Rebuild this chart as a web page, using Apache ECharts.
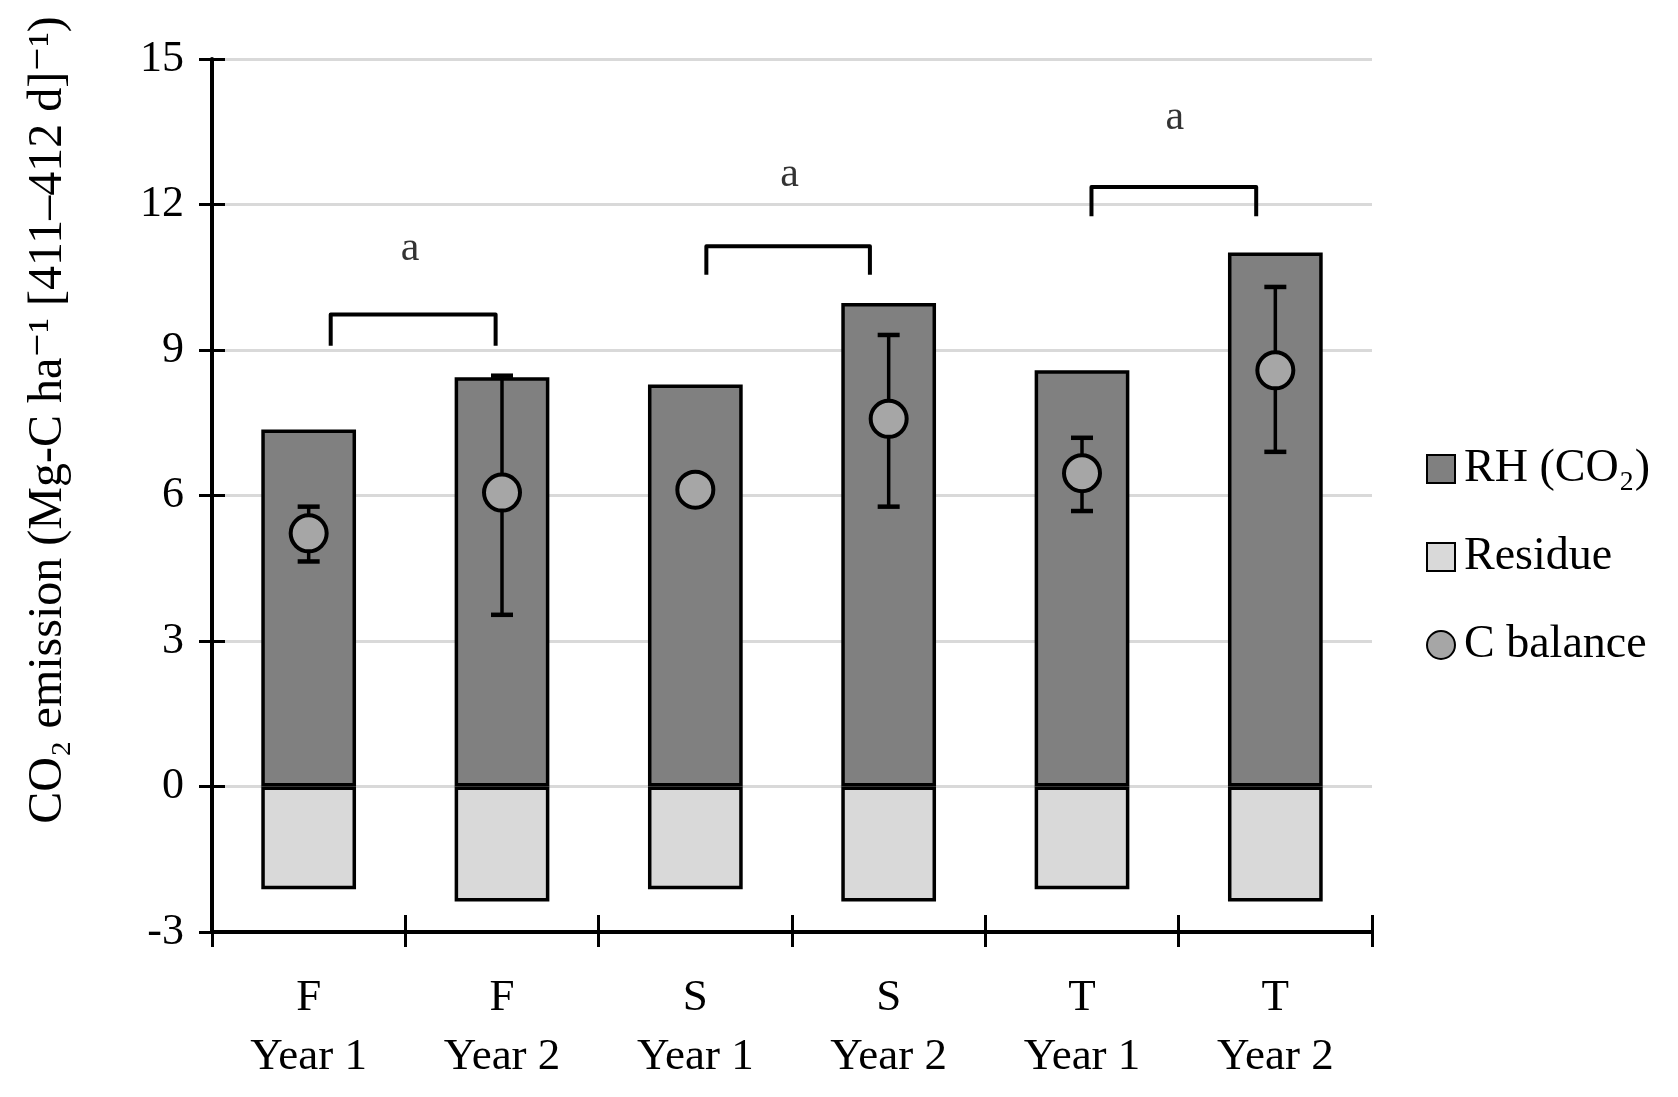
<!DOCTYPE html>
<html>
<head>
<meta charset="utf-8">
<script src="https://cdn.jsdelivr.net/npm/echarts@6/dist/echarts.min.js"></script>
<style>
html,body{margin:0;padding:0;background:#fff;}
#main{width:1678px;height:1097px;}
</style>
</head>
<body>
<div id="main"></div>
<script>
// ---- data ----
var categories = ['F\nYear 1','F\nYear 2','S\nYear 1','S\nYear 2','T\nYear 1','T\nYear 2'];
var rhValues = [7.36, 8.44, 8.29, 9.97, 8.58, 11.01];
var residueValues = [-2.12, -2.37, -2.12, -2.37, -2.12, -2.37];
var cBalance = [5.22, 6.06, 6.12, 7.58, 6.46, 8.58];
var errLow = [4.64, 3.54, null, 5.77, 5.68, 6.90];
var errHigh = [5.77, 8.47, null, 9.31, 7.19, 10.30];
var yTicks = {min: -3, max: 15, interval: 3};
// significance brackets (x in category index units)
var bracketLeft = [0.114, 2.057, 4.049];
var bracketRight = [0.967, 2.903, 4.901];
var bracketTop = [9.73, 11.14, 12.36];
var bracketFoot = [9.09, 10.55, 11.76];
var letterX = [0.524, 2.488, 4.48];
var letterY = [11.09, 12.61, 13.78];
var letters = ['a', 'a', 'a'];

var FONT = '"Liberation Serif", "DejaVu Serif", serif';

var errData = [];
for (var i = 0; i < categories.length; i++) {
  if (errLow[i] != null) errData.push([i, errLow[i], errHigh[i]]);
}
var bracketData = bracketLeft.map(function(l, i){ return [l, bracketRight[i], bracketTop[i], bracketFoot[i]]; });
var letterData = letterX.map(function(x, i){ return [x, letterY[i], letters[i]]; });

var chart = echarts.init(document.getElementById('main'), null, {renderer: 'canvas'});
var option = {
  backgroundColor: '#fff',
  animation: false,
  grid: {left: 212, right: 306, top: 59, bottom: 165},
  legend: {
    orient: 'vertical',
    left: 1421, top: 441,
    itemWidth: 28, itemHeight: 28,
    itemGap: 42,
    textStyle: {fontFamily: FONT, fontSize: 46, color: '#000', lineHeight: 46, padding: [0,0,0,4]},
    data: [
      {name: 'RH (CO₂)', icon: 'rect'},
      {name: 'Residue', icon: 'rect'},
      {name: 'C balance', icon: 'circle'}
    ]
  },
  xAxis: [
    {
      type: 'category', data: categories, position: 'bottom',
      axisLine: {onZero: false, lineStyle: {color: '#000', width: 4}},
      axisTick: {show: true, length: 15, lineStyle: {color: '#000', width: 3}},
      axisLabel: {fontFamily: FONT, fontSize: 45, color: '#000', lineHeight: 59, margin: 37},
      splitLine: {show: false}
    },
    {
      type: 'value', min: -0.5, max: 5.5, show: false
    },
    {
      type: 'category', data: categories, position: 'bottom',
      axisLine: {show: false, onZero: false},
      axisTick: {show: true, inside: true, length: 17, lineStyle: {color: '#000', width: 3}},
      axisLabel: {show: false},
      splitLine: {show: false}
    }
  ],
  yAxis: [
    {
      type: 'value', min: yTicks.min, max: yTicks.max, interval: yTicks.interval, position: 'left',
      axisLine: {show: true, onZero: false, lineStyle: {color: '#000', width: 4}},
      axisTick: {show: true, length: 13, lineStyle: {color: '#000', width: 3}},
      axisLabel: {fontFamily: FONT, fontSize: 44, color: '#000', margin: 28},
      splitLine: {show: true, lineStyle: {color: '#d9d9d9', width: 3}}
    },
    {
      type: 'value', min: yTicks.min, max: yTicks.max, interval: yTicks.interval, position: 'left',
      axisLine: {show: false, onZero: false},
      axisTick: {show: true, inside: true, length: 13, lineStyle: {color: '#000', width: 3}},
      axisLabel: {show: false},
      splitLine: {show: false}
    }
  ],
  graphic: [{
    type: 'text',
    x: 48, y: 420,
    rotation: Math.PI / 2,
    style: {
      text: 'CO₂ emission (Mg-C ha⁻¹ [411–412 d]⁻¹)',
      font: '48px ' + FONT,
      fill: '#000',
      align: 'center',
      verticalAlign: 'middle'
    }
  }],
  series: [
    {
      name: 'RH (CO₂)', type: 'bar', stack: 'total', data: rhValues,
      barWidth: '49%',
      itemStyle: {color: '#808080', borderColor: '#000', borderWidth: 3.5},
      z: 2
    },
    {
      name: 'Residue', type: 'bar', stack: 'total', data: residueValues,
      barWidth: '49%',
      itemStyle: {color: '#d9d9d9', borderColor: '#000', borderWidth: 3.5},
      z: 2
    },
    {
      name: 'errorbars', type: 'custom', data: errData,
      encode: {x: 0, y: [1, 2]},
      z: 3,
      renderItem: function(params, api) {
        var x = api.value(0), lo = api.value(1), hi = api.value(2);
        var pH = api.coord([x, hi]), pL = api.coord([x, lo]);
        var hw = 11;
        return {type: 'group', children: [
          {type: 'line', shape: {x1: pH[0], y1: pH[1], x2: pL[0], y2: pL[1]}, style: {stroke: '#000', lineWidth: 3.5}},
          {type: 'line', shape: {x1: pH[0]-hw, y1: pH[1], x2: pH[0]+hw, y2: pH[1]}, style: {stroke: '#000', lineWidth: 4.5}},
          {type: 'line', shape: {x1: pL[0]-hw, y1: pL[1], x2: pL[0]+hw, y2: pL[1]}, style: {stroke: '#000', lineWidth: 4.5}}
        ]};
      }
    },
    {
      name: 'C balance', type: 'scatter', data: cBalance,
      symbol: 'circle', symbolSize: 36,
      itemStyle: {color: '#a6a6a6', borderColor: '#000', borderWidth: 4, opacity: 1},
      z: 4
    },
    {
      name: 'brackets', type: 'custom', xAxisIndex: 1, data: bracketData,
      encode: {x: [0, 1], y: [2, 3]},
      z: 3,
      renderItem: function(params, api) {
        var l = api.value(0), r = api.value(1), t = api.value(2), f = api.value(3);
        var a = api.coord([l, f]), b = api.coord([l, t]), c = api.coord([r, t]), d = api.coord([r, f]);
        return {type: 'polyline', shape: {points: [a, b, c, d]},
          style: {stroke: '#000', lineWidth: 4, fill: null, lineJoin: 'round'}};
      }
    },
    {
      name: 'letters', type: 'scatter', xAxisIndex: 1, data: letterData,
      symbolSize: 1,
      itemStyle: {color: 'rgba(0,0,0,0)'},
      label: {show: true, position: 'inside', formatter: function(p){ return p.value[2]; },
        fontFamily: FONT, fontSize: 42, color: '#000'},
      z: 5
    }
  ]
};
chart.setOption(option);
</script>
</body>
</html>
